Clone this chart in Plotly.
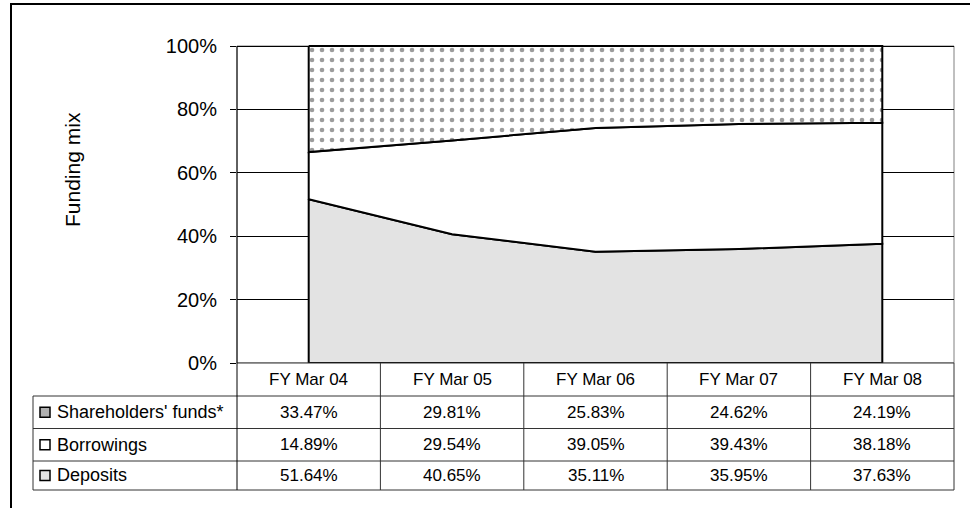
import plotly.graph_objects as go

# ---------------- data ----------------
categories = ["FY Mar 04", "FY Mar 05", "FY Mar 06", "FY Mar 07", "FY Mar 08"]
series_names = ["Shareholders' funds*", "Borrowings", "Deposits"]
shareholders = [33.47, 29.81, 25.83, 24.62, 24.19]
borrowings = [14.89, 29.54, 39.05, 39.43, 38.18]
deposits = [51.64, 40.65, 35.11, 35.95, 37.63]
y_ticks = [0, 20, 40, 60, 80, 100]
y_title = "Funding mix"

# ---------------- layout geometry ----------------
W, H = 970, 508
L, R, T, B = 237, 16, 45, 145
PW, PH = W - L - R, H - T - B
Y_MAX = 100.32
FONT = "Liberation Sans, Arial, sans-serif"


def px_x(p):
    return (p - L) / PW


def px_y(p):
    return (T + PH - p) / PH


# stacked boundaries
zeros = [0.0] * len(categories)
lvl1 = deposits
lvl2 = [d + b for d, b in zip(deposits, borrowings)]
lvl3 = [d + b + s for d, b, s in zip(deposits, borrowings, shareholders)]

fig = go.Figure()


def poly(lower, upper, fillcolor, pattern=None):
    xs = categories + categories[::-1] + categories[:1]
    ys = list(upper) + list(lower)[::-1] + [upper[0]]
    kw = dict(
        x=xs, y=ys, mode="lines", fill="toself", fillcolor=fillcolor,
        line=dict(color="black", width=2), hoverinfo="skip", showlegend=False,
    )
    if pattern:
        kw["fillpattern"] = pattern
    fig.add_trace(go.Scatter(**kw))


poly(zeros, lvl1, "#e3e3e3")
poly(lvl1, lvl2, "white")
poly(lvl2, lvl3, "white",
     dict(shape=".", size=10, solidity=0.17, fgcolor="#3a3a3a", bgcolor="white"))

shapes = []
# plot area border (gray) between gridlines and traces
shapes.append(dict(type="rect", xref="paper", yref="y", x0=0, y0=0, x1=1, y1=100,
                   line=dict(color="#808080", width=1), layer="between"))
# outer chart border (only top and left edges fall inside the picture)
shapes.append(dict(type="line", xref="paper", yref="paper",
                   x0=px_x(10), y0=px_y(4), x1=px_x(W), y1=px_y(4),
                   line=dict(color="black", width=2), layer="above"))
shapes.append(dict(type="line", xref="paper", yref="paper",
                   x0=px_x(11), y0=px_y(3), x1=px_x(11), y1=px_y(H),
                   line=dict(color="black", width=2), layer="above"))

# data table lines
row_edges = [363, 396, 428.5, 461, 490]
tab_left = 33
tcol = "#333333"
shapes.append(dict(type="line", xref="paper", yref="paper", x0=0, x1=1,
                   y0=px_y(row_edges[0]), y1=px_y(row_edges[0]),
                   line=dict(color=tcol, width=1), layer="above"))
for r in row_edges[1:]:
    shapes.append(dict(type="line", xref="paper", yref="paper", x0=px_x(tab_left), x1=1,
                       y0=px_y(r), y1=px_y(r), line=dict(color=tcol, width=1), layer="above"))
shapes.append(dict(type="line", xref="paper", yref="paper", x0=px_x(tab_left), x1=px_x(tab_left),
                   y0=px_y(row_edges[1]), y1=px_y(row_edges[-1]),
                   line=dict(color=tcol, width=1), layer="above"))
n = len(categories)
for i in range(n + 1):
    shapes.append(dict(type="line", xref="paper", yref="paper", x0=i / n, x1=i / n,
                       y0=px_y(row_edges[0]), y1=px_y(row_edges[-1]),
                       line=dict(color=tcol if i > 0 else "black", width=1), layer="above"))

annotations = []
tfont = dict(family=FONT, size=17, color="black")
lfont = dict(family=FONT, size=18, color="black")
# header row
hdr_c = (row_edges[0] + row_edges[1]) / 2
for c in categories:
    annotations.append(dict(x=c, y=px_y(hdr_c), xref="x", yref="paper", text=c,
                            showarrow=False, font=tfont, xanchor="center", yanchor="middle"))

table_rows = [shareholders, borrowings, deposits]
swatch = ["#b0b0b0", "white", "#e3e3e3"]
for k, (name, vals) in enumerate(zip(series_names, table_rows)):
    yc = (row_edges[k + 1] + row_edges[k + 2]) / 2
    for c, v in zip(categories, vals):
        annotations.append(dict(x=c, y=px_y(yc), xref="x", yref="paper", text=f"{v:.2f}%",
                                showarrow=False, font=tfont, xanchor="center", yanchor="middle"))
    annotations.append(dict(x=px_x(55), y=px_y(yc), xref="paper", yref="paper", text=name,
                            showarrow=False, font=lfont, xanchor="left", yanchor="middle"))
    shapes.append(dict(type="rect", xref="paper", yref="paper",
                       x0=px_x(40), x1=px_x(50), y0=px_y(yc - 5), y1=px_y(yc + 5),
                       fillcolor=swatch[k], line=dict(color="black", width=1.5), layer="above"))

# y-axis title
annotations.append(dict(x=px_x(72), y=px_y(170), xref="paper", yref="paper", text=y_title,
                        textangle=-90, showarrow=False,
                        font=dict(family=FONT, size=21, color="black"),
                        xanchor="center", yanchor="middle"))

fig.update_layout(
    width=W, height=H,
    margin=dict(l=L, r=R, t=T, b=B),
    paper_bgcolor="white", plot_bgcolor="white",
    font=dict(family=FONT, color="black"),
    showlegend=False,
    shapes=shapes,
    annotations=annotations,
    xaxis=dict(type="category", categoryorder="array", categoryarray=categories,
               range=[-0.5, n - 0.5], showticklabels=False, showgrid=False,
               zeroline=False, showline=False, ticks=""),
    yaxis=dict(range=[0, Y_MAX], tickvals=y_ticks, ticktext=[f"{t}%" for t in y_ticks],
               ticks="outside", ticklen=6, tickcolor="black", tickwidth=1,
               showline=False,
               showgrid=True, gridcolor="black", gridwidth=1, zeroline=False,
               tickfont=dict(family=FONT, size=20, color="black"),
               ticklabelstandoff=9),
)
# black left axis line from 0% to 100%
fig.add_shape(type="line", xref="paper", yref="y", x0=0, x1=0, y0=0, y1=100,
              line=dict(color="black", width=1), layer="above")

fig.write_html("out.html")
